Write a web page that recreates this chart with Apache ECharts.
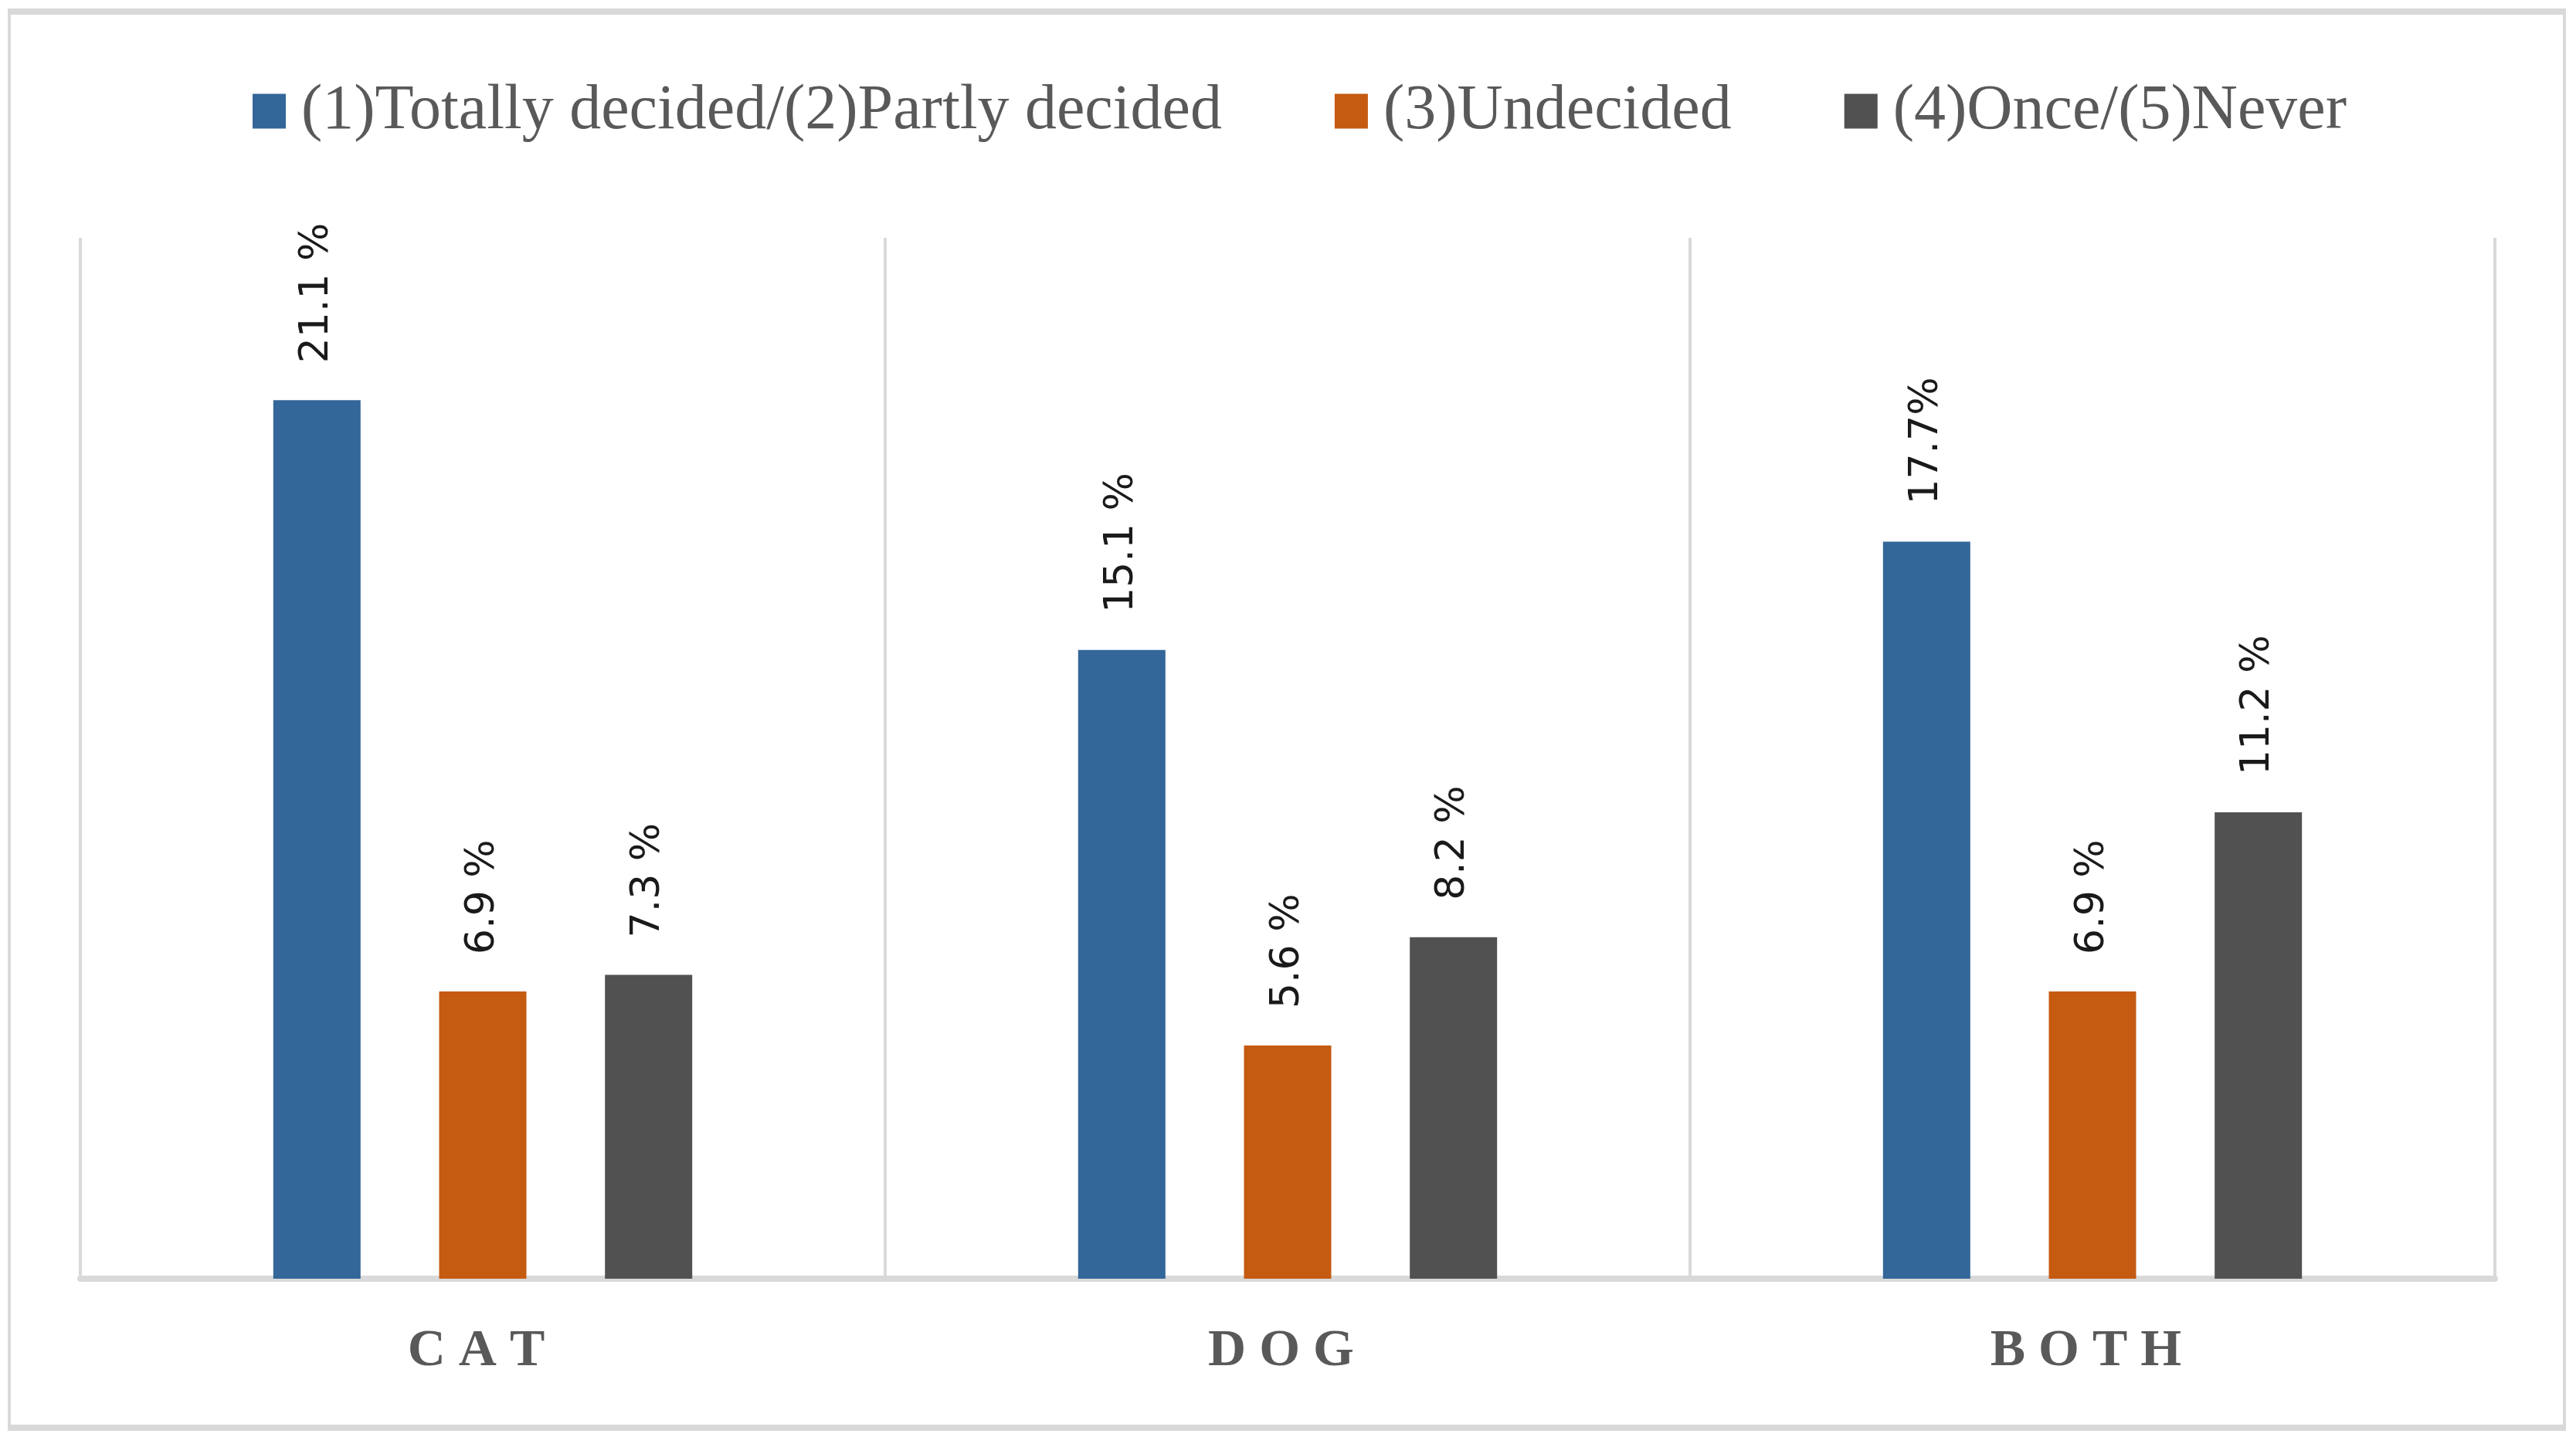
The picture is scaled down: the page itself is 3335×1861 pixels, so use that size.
<!DOCTYPE html>
<html>
<head>
<meta charset="utf-8">
<script src="https://cdn.jsdelivr.net/npm/echarts@6/dist/echarts.min.js"></script>
<style>
html,body{margin:0;padding:0;background:#fff;}
#chart{position:absolute;left:0;top:0;width:3335px;height:1861px;}
#frame{position:absolute;left:10px;top:11px;width:3304px;height:1826px;border-style:solid;border-color:#d9d9d9;border-width:8px 4px 8px 4px;pointer-events:none;}
</style>
</head>
<body>
<div id="chart"></div>
<div id="frame"></div>
<script>
const categories = ['CAT', 'DOG', 'BOTH'];
const seriesNames = ['(1)Totally decided/(2)Partly decided', '(3)Undecided', '(4)Once/(5)Never'];
const decidedValues = [21.1, 15.1, 17.7];
const undecidedValues = [6.9, 5.6, 6.9];
const neverValues = [7.3, 8.2, 11.2];
const decidedLabels = ['21.1 %', '15.1 %', '17.7%'];
const undecidedLabels = ['6.9 %', '5.6 %', '6.9 %'];
const neverLabels = ['7.3 %', '8.2 %', '11.2 %'];
const colors = ['#336699', '#c55a11', '#515151'];

const chart = echarts.init(document.getElementById('chart'), null, {renderer: 'canvas'});

function makeSeries(name, values, labels, color) {
  return {
    name: name,
    type: 'bar',
    data: values,
    barWidth: 113,
    barGap: '90%',
    itemStyle: {color: color},
    label: {
      show: true,
      position: 'top',
      rotate: 90,
      align: 'left',
      verticalAlign: 'middle',
      distance: 48,
      fontFamily: 'DejaVu Sans',
      fontSize: 52,
      color: '#1a1a1a',
      formatter: function (p) { return labels[p.dataIndex]; }
    }
  };
}

chart.setOption({
  animation: false,
  backgroundColor: '#ffffff',
  legend: {
    data: seriesNames,
    left: 322,
    top: 98,
    itemWidth: 43,
    itemHeight: 45,
    itemGap: 146,
    icon: 'rect',
    textStyle: {
      fontFamily: 'Liberation Serif',
      fontSize: 82,
      color: '#595959',
      padding: [0, 0, 0, 15]
    }
  },
  grid: {left: 104, right: 105, top: 308, bottom: 205, containLabel: false},
  xAxis: {
    type: 'category',
    data: categories,
    boundaryGap: true,
    axisLine: {show: true, lineStyle: {color: '#d9d9d9', width: 8}},
    axisTick: {show: false},
    splitLine: {show: true, lineStyle: {color: '#d9d9d9', width: 4}},
    axisLabel: {
      margin: 60,
      fontFamily: 'Liberation Serif',
      fontSize: 68,
      fontWeight: 'bold',
      color: '#595959',
      formatter: function (v) { return v.split('').join(' ') + ' '; }
    }
  },
  yAxis: {
    type: 'value',
    min: 0,
    max: 25,
    show: false,
    splitLine: {show: false}
  },
  series: [
    makeSeries(seriesNames[0], decidedValues, decidedLabels, colors[0]),
    makeSeries(seriesNames[1], undecidedValues, undecidedLabels, colors[1]),
    makeSeries(seriesNames[2], neverValues, neverLabels, colors[2])
  ]
});
</script>
</body>
</html>
